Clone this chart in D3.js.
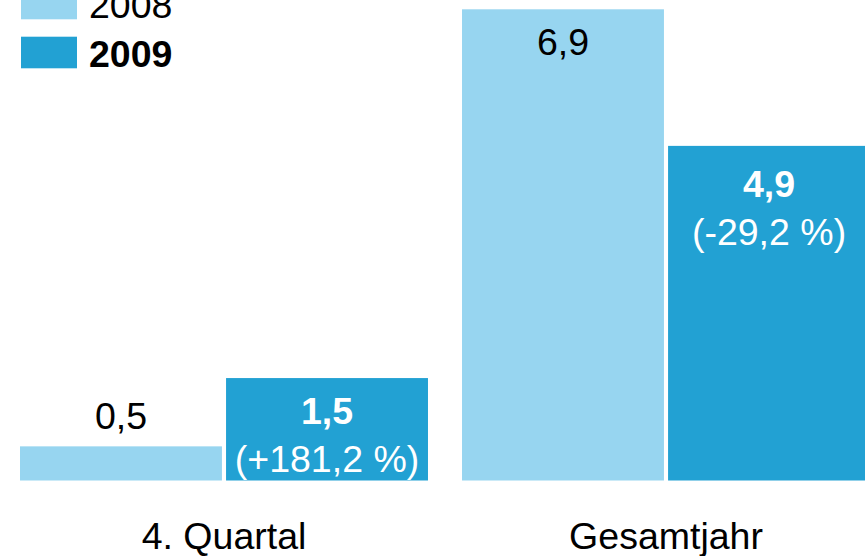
<!DOCTYPE html>
<html>
<head>
<meta charset="utf-8">
<script src="https://cdn.jsdelivr.net/npm/d3@7"></script>
<style>
  html, body { margin: 0; padding: 0; background: #fff; overflow: hidden; }
  svg { display: block; font-family: "Liberation Sans", Arial, sans-serif; }
</style>
</head>
<body>
<svg id="chart" width="865" height="556"></svg>
<script>
// Categories, series and labels
const categories = ["4. Quartal", "Gesamtjahr"];
const seriesNames = ["2008", "2009"];
const values2008 = [0.5, 6.9];
const values2009 = [1.5, 4.9];
const changes2009 = ["+181,2 %", "-29,2 %"];
const colors = ["#97d5f0", "#22a1d3"];

const baseY = 480.5;
const svg = d3.select("#chart");

const fmt = v => d3.format(".1f")(v).replace(".", ",");

const x0 = d3.scaleBand().domain(categories).range([20, 870]).paddingInner(0.077).paddingOuter(0);
const x1 = d3.scaleBand().domain(seriesNames).range([0, x0.bandwidth()]).paddingInner(0.02);
const y = d3.scaleLinear().domain([0, 6.9]).range([baseY, 9.3]);

const rows = categories.map((c, i) => ({
  cat: c,
  bars: [
    { s: "2008", v: values2008[i], change: null },
    { s: "2009", v: values2009[i], change: changes2009[i] }
  ]
}));

const fs = 37.5;

const groups = svg.selectAll("g.grp").data(rows).join("g")
  .attr("class", "grp")
  .attr("transform", d => `translate(${x0(d.cat)},0)`);

groups.selectAll("rect").data(d => d.bars).join("rect")
  .attr("x", d => x1(d.s))
  .attr("y", d => y(d.v))
  .attr("width", x1.bandwidth())
  .attr("height", d => baseY - y(d.v))
  .attr("fill", (d, i) => colors[i]);

groups.each(function (row) {
  const g = d3.select(this);
  // 2008: inside the bar near its top when tall, otherwise above it
  const b08 = row.bars[0];
  const cx08 = x1("2008") + x1.bandwidth() / 2;
  const inside = baseY - y(b08.v) > 80;
  g.append("text")
    .attr("x", cx08)
    .attr("y", inside ? y(b08.v) + 46 : y(b08.v) - 17)
    .attr("text-anchor", "middle")
    .attr("font-size", fs)
    .attr("fill", "#000")
    .text(fmt(b08.v));

  // 2009: value and change inside the bar
  const b09 = row.bars[1];
  const cx09 = x1("2009") + x1.bandwidth() / 2;
  let yVal = y(b09.v) + 51;
  const yChg = Math.min(yVal + 48, baseY - 9);
  yVal = yChg - 48;
  g.append("text")
    .attr("x", cx09)
    .attr("y", yVal)
    .attr("text-anchor", "middle")
    .attr("font-size", fs)
    .attr("font-weight", "bold")
    .attr("fill", "#fff")
    .text(fmt(b09.v));
  g.append("text")
    .attr("x", cx09)
    .attr("y", yChg)
    .attr("text-anchor", "middle")
    .attr("font-size", fs)
    .attr("fill", "#fff")
    .text(`(${b09.change})`);
});

// Category axis
const axis = d3.axisBottom(x0).tickSize(0).tickPadding(0);
const axG = svg.append("g").attr("transform", `translate(0,${baseY})`).call(axis);
axG.select(".domain").remove();
axG.selectAll("text")
  .attr("y", 68.5)
  .attr("dy", 0)
  .attr("font-size", fs)
  .attr("font-family", "Liberation Sans, Arial, sans-serif")
  .attr("fill", "#000");

// Legend
const legend = svg.append("g");
seriesNames.forEach((s, i) => {
  const top = -12.3 + i * 49;
  legend.append("rect")
    .attr("x", 21).attr("y", top)
    .attr("width", 56).attr("height", 31.6)
    .attr("fill", colors[i]);
  legend.append("text")
    .attr("x", 89).attr("y", top + 30.5)
    .attr("font-size", fs)
    .attr("font-weight", i === 1 ? "bold" : "normal")
    .attr("fill", "#000")
    .text(s);
});
</script>
</body>
</html>
